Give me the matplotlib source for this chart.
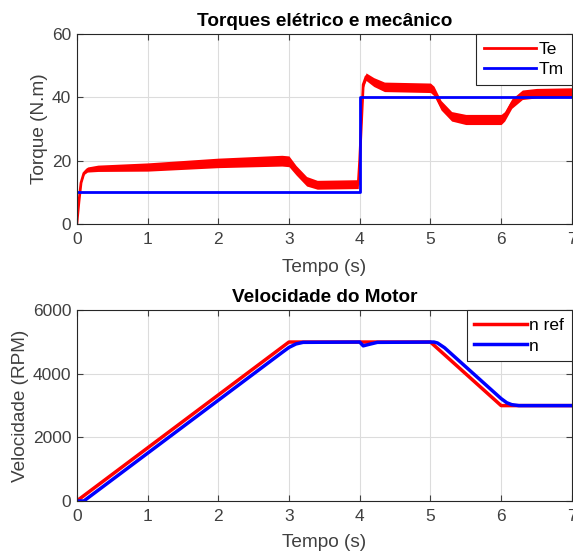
import matplotlib.pyplot as plt
import numpy as np

plt.rcParams['font.family'] = ['Liberation Sans', 'DejaVu Sans']

# Torque plot data
te_t = [0, 0.03, 0.06, 0.1, 0.15, 0.3, 1.0, 2.0, 2.9, 3.0, 3.1, 3.25, 3.4, 3.98,
        4.0, 4.05, 4.09, 4.2, 4.35, 5.0, 5.05, 5.15, 5.3, 5.5, 6.0, 6.05, 6.15,
        6.3, 6.5, 7.0]
te_mid = [0, 7, 13, 16, 17.2, 17.6, 18.0, 19.3, 20.0, 19.8, 17.0, 13.5, 12.4, 12.6,
          20, 44, 46.5, 44.8, 43.3, 43.0, 42.0, 37.5, 34.0, 33.0, 33.0, 34.0, 38.0,
          40.8, 41.3, 41.5]
te_band = [0, 0, 0, 0.4, 0.8, 1.0, 1.3, 1.5, 1.7, 1.7, 1.5, 1.5, 1.4, 1.4,
           1.0, 1.0, 1.2, 1.4, 1.5, 1.5, 1.5, 1.5, 1.5, 1.6, 1.6, 1.5, 1.5,
           1.5, 1.5, 1.5]

tm_t = [0, 4, 4, 7]
tm = [10, 10, 40, 40]

# Speed plot data
nref_t = [0, 3, 5, 6, 7]
nref = [0, 5000, 5000, 3000, 3000]

n_t = [0, 0.1, 2.9, 3.0, 3.1, 3.2, 4.0, 4.05, 4.12, 4.25, 5.05, 5.1, 5.2,
       6.0, 6.08, 6.15, 6.25, 7.0]
n = [0, 0, 4667, 4830, 4940, 4990, 5000, 4880, 4920, 4990, 5000, 4970, 4820,
     3220, 3090, 3030, 3000, 3000]

fig = plt.figure(figsize=(5.73, 5.56), dpi=100)
ax1 = fig.add_axes([0.134, 0.597, 0.864, 0.342])
ax2 = fig.add_axes([0.134, 0.099, 0.864, 0.343])

ax_grey = '#262626'
txt_grey = '#404040'


def style_axes(ax):
    # MATLAB-like look: grid, inward ticks on all sides
    ax.grid(True, color='#dcdcdc', linewidth=0.8)
    ax.set_axisbelow(True)
    ax.tick_params(direction='in', length=4, top=True, right=True, pad=4,
                   labelsize=12.5, colors=txt_grey, labelcolor=txt_grey)
    ax.tick_params(axis='x', pad=6)
    for sp in ax.spines.values():
        sp.set_color(ax_grey)
        sp.set_linewidth(0.8)


def style_legend(ax):
    leg = ax.legend(loc='upper right', handlelength=3.0, handletextpad=0.15,
                    borderaxespad=0, fancybox=False, framealpha=1, borderpad=0.45,
                    labelspacing=0.3, prop={'size': 12.5})
    leg.get_frame().set_edgecolor(ax_grey)
    leg.get_frame().set_linewidth(0.8)


te_mid = np.array(te_mid)
te_band = np.array(te_band)
ax1.fill_between(te_t, te_mid - te_band, te_mid + te_band, color='red', linewidth=0)
ax1.plot(te_t, te_mid, color='red', linewidth=2, label='Te')
ax1.plot(tm_t, tm, color='blue', linewidth=2, label='Tm')
ax1.set_xlim(0, 7)
ax1.set_ylim(0, 60)
ax1.set_yticks([0, 20, 40, 60])
ax1.set_xticks(range(8))
ax1.set_xlabel('Tempo (s)', fontsize=13.7, color=txt_grey, labelpad=8)
ax1.set_ylabel('Torque (N.m)', fontsize=13.7, color=txt_grey, labelpad=3)
ax1.set_title('Torques elétrico e mecânico', fontsize=13.7, fontweight='bold', pad=6)
style_axes(ax1)
style_legend(ax1)

ax2.plot(nref_t, nref, color='red', linewidth=2.5, label='n ref')
ax2.plot(n_t, n, color='blue', linewidth=2.5, label='n')
ax2.set_xlim(0, 7)
ax2.set_ylim(0, 6000)
ax2.set_yticks([0, 2000, 4000, 6000])
ax2.set_xticks(range(8))
ax2.set_xlabel('Tempo (s)', fontsize=13.7, color=txt_grey, labelpad=7)
ax2.set_ylabel('Velocidade (RPM)', fontsize=13.7, color=txt_grey, labelpad=3)
ax2.set_title('Velocidade do Motor', fontsize=13.7, fontweight='bold', pad=6)
style_axes(ax2)
style_legend(ax2)

fig.savefig('out.png', dpi=100)
